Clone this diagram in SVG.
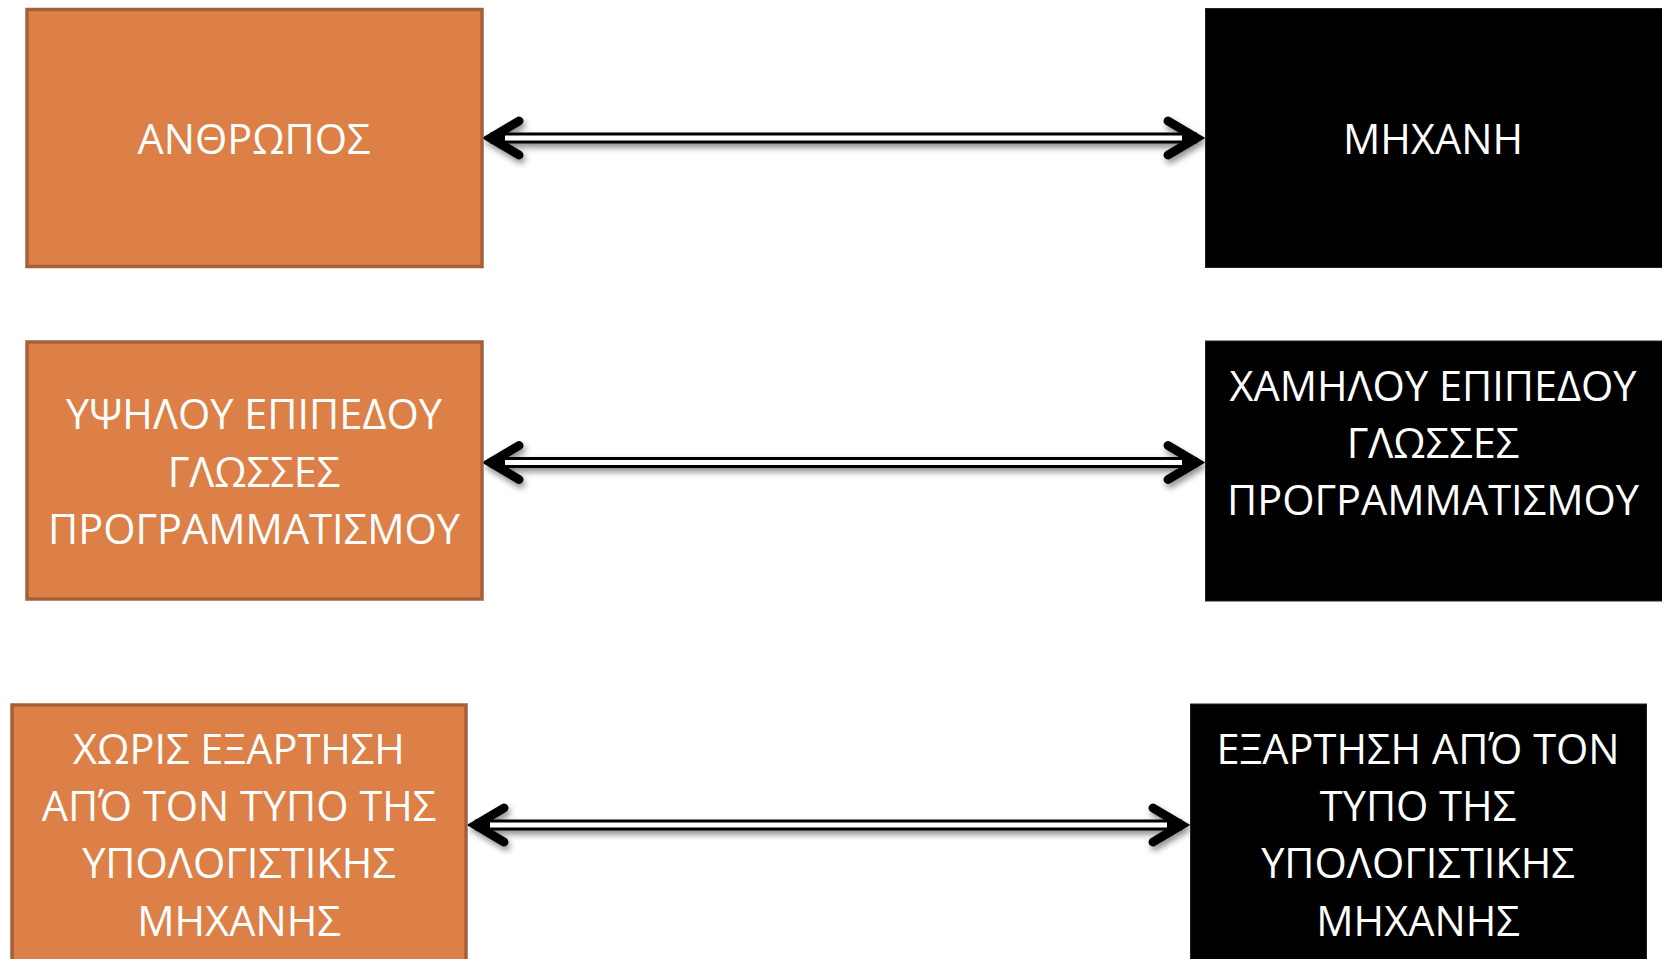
<svg xmlns="http://www.w3.org/2000/svg" width="1662" height="959" viewBox="0 0 1662 959">
<style>
.orange{fill:#DD8047;stroke:#A5603A;stroke-width:3.5}
.black{fill:#000;stroke:#222;stroke-width:1}
.t{font-family:"Open Sans","Noto Sans","DejaVu Sans",sans-serif;font-size:41.5px;fill:#fff;text-anchor:middle}
.outer{stroke:#000;stroke-width:11;fill:none}
.inner{stroke:#fff;stroke-width:5;fill:none}
.head{stroke:#000;stroke-width:9;fill:none;stroke-linecap:round;stroke-linejoin:miter;stroke-miterlimit:10}
</style>
<defs>
<filter id="sh" x="-10%" y="-100%" width="120%" height="300%">
<feDropShadow dx="2" dy="4" stdDeviation="3" flood-color="#000" flood-opacity="0.45"/>
</filter>
</defs>
<rect width="1662" height="959" fill="#fff"/>
<g id="connectors" filter="url(#sh)">
<g id="c1">
<line class="outer" x1="490" y1="138" x2="1197" y2="138"/>
<line class="inner" x1="505" y1="138" x2="1182" y2="138"/>
<path class="head" d="M519,121 L490.5,138 L519,155"/>
<path class="head" d="M1168,121 L1196.5,138 L1168,155"/>
</g>
<g id="c2">
<line class="outer" x1="490" y1="462.5" x2="1197" y2="462.5"/>
<line class="inner" x1="505" y1="462.5" x2="1182" y2="462.5"/>
<path class="head" d="M519,445.5 L490.5,462.5 L519,479.5"/>
<path class="head" d="M1168,445.5 L1196.5,462.5 L1168,479.5"/>
</g>
<g id="c3">
<line class="outer" x1="475" y1="825" x2="1182" y2="825"/>
<line class="inner" x1="490" y1="825" x2="1167" y2="825"/>
<path class="head" d="M504,808 L475.5,825 L504,842"/>
<path class="head" d="M1153,808 L1181.5,825 L1153,842"/>
</g>
</g>
<g id="n1">
<rect class="orange" x="27" y="9.5" width="455" height="257"/>
<text class="t" x="254" y="154">ΑΝΘΡΩΠΟΣ</text>
</g>
<g id="n2">
<rect class="black" x="1205.5" y="8.5" width="470" height="259"/>
<text class="t" x="1433" y="154">ΜΗΧΑΝΗ</text>
</g>
<g id="n3">
<rect class="orange" x="27" y="342" width="455" height="257"/>
<text class="t" x="254" y="429">ΥΨΗΛΟΥ ΕΠΙΠΕΔΟΥ</text>
<text class="t" x="254" y="486.5">ΓΛΩΣΣΕΣ</text>
<text class="t" x="254" y="544">ΠΡΟΓΡΑΜΜΑΤΙΣΜΟΥ</text>
</g>
<g id="n4">
<rect class="black" x="1205.5" y="341" width="470" height="260"/>
<text class="t" x="1433" y="401">ΧΑΜΗΛΟΥ ΕΠΙΠΕΔΟΥ</text>
<text class="t" x="1433" y="458">ΓΛΩΣΣΕΣ</text>
<text class="t" x="1433" y="515">ΠΡΟΓΡΑΜΜΑΤΙΣΜΟΥ</text>
</g>
<g id="n5">
<rect class="orange" x="12" y="705" width="454" height="280"/>
<text class="t" x="239" y="764">ΧΩΡΙΣ ΕΞΑΡΤΗΣΗ</text>
<text class="t" x="239" y="821">ΑΠΌ ΤΟΝ ΤΥΠΟ ΤΗΣ</text>
<text class="t" x="239" y="878">ΥΠΟΛΟΓΙΣΤΙΚΗΣ</text>
<text class="t" x="239" y="936">ΜΗΧΑΝΗΣ</text>
</g>
<g id="n6">
<rect class="black" x="1190.5" y="704" width="456" height="280"/>
<text class="t" x="1418" y="764">ΕΞΑΡΤΗΣΗ ΑΠΌ ΤΟΝ</text>
<text class="t" x="1418" y="821">ΤΥΠΟ ΤΗΣ</text>
<text class="t" x="1418" y="878">ΥΠΟΛΟΓΙΣΤΙΚΗΣ</text>
<text class="t" x="1418" y="936">ΜΗΧΑΝΗΣ</text>
</g>
</svg>
